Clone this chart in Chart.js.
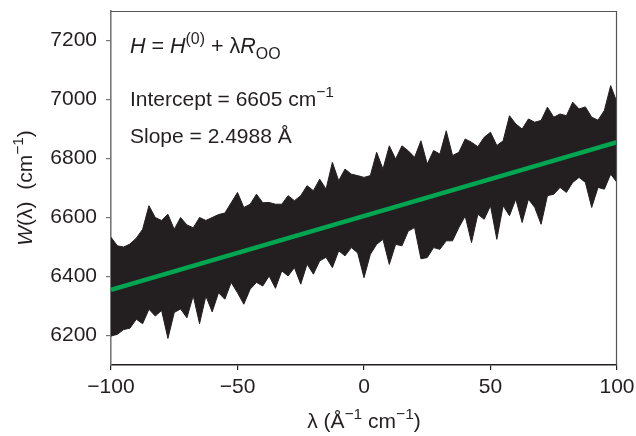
<!DOCTYPE html>
<html>
<head>
<meta charset="utf-8">
<script src="https://cdn.jsdelivr.net/npm/chart.js@4.4.1/dist/chart.umd.min.js"></script>
<style>
  body { margin: 0; background: #fff; }
  #wrap { width: 636px; height: 436px; }
</style>
</head>
<body>
<div id="wrap"><canvas id="myChart" width="636" height="436"></canvas></div>
<script>
/* data */

const lambdaGrid = [
  -100, -97.5, -95, -92.5, -90, -87.5, -85, -82.5, -80, -77.5,
  -75, -72.5, -70, -67.5, -65, -62.5, -60, -57.5, -55, -52.5,
  -50, -47.5, -45, -42.5, -40, -37.5, -35, -32.5, -30, -27.5,
  -25, -22.5, -20, -17.5, -15, -12.5, -10, -7.5, -5, -2.5,
  0, 2.5, 5, 7.5, 10, 12.5, 15, 17.5, 20, 22.5,
  25, 27.5, 30, 32.5, 35, 37.5, 40, 42.5, 45, 47.5,
  50, 52.5, 55, 57.5, 60, 62.5, 65, 67.5, 70, 72.5,
  75, 77.5, 80, 82.5, 85, 87.5, 90, 92.5, 95, 97.5, 100
];

// top edge of the noisy W(lambda) trace
const upperEnv = [
  6533, 6504, 6500, 6510, 6530, 6560, 6640, 6600, 6590, 6611,
  6560, 6600, 6575, 6565, 6600, 6590, 6600, 6610, 6615, 6650,
  6685, 6634, 6645, 6679, 6650, 6651, 6645, 6645, 6674, 6657,
  6674, 6708, 6691, 6730, 6696, 6787, 6725, 6764, 6747, 6742,
  6736, 6742, 6821, 6764, 6843, 6798, 6843, 6826, 6804, 6860,
  6781, 6827, 6815, 6894, 6810, 6821, 6866, 6855, 6840, 6872,
  6889, 6844, 6860, 6945, 6917, 6900, 6934, 6923, 6929, 6974,
  6940, 6951, 6945, 6991, 6968, 6975, 6940, 6930, 6963, 7047, 6990
];

// bottom edge of the noisy W(lambda) trace
const lowerEnv = [
  6198, 6204, 6220, 6225, 6255, 6240, 6289, 6266, 6285, 6190,
  6278, 6290, 6260, 6335, 6240, 6334, 6280, 6345, 6323, 6380,
  6345, 6306, 6357, 6380, 6368, 6402, 6360, 6419, 6402, 6430,
  6374, 6442, 6408, 6453, 6465, 6430, 6487, 6470, 6498, 6480,
  6396, 6475, 6509, 6526, 6441, 6509, 6504, 6554, 6566, 6460,
  6464, 6498, 6492, 6521, 6521, 6566, 6605, 6515, 6611, 6594,
  6640, 6526, 6640, 6606, 6662, 6583, 6662, 6634, 6577, 6674,
  6679, 6702, 6685, 6719, 6736, 6719, 6634, 6702, 6696, 6747, 6719
];

// linear fit, intercept 6605, slope 2.4988
const fitLambda = [-100, 100];
const fitW = [6355, 6855];

const xTicks = [-100, -50, 0, 50, 100];
const yTicks = [6200, 6400, 6600, 6800, 7000, 7200];

const ink = '#231f20';
const green = '#00a650';
const FONT = '"Liberation Sans", Arial, Helvetica, sans-serif';

/* rich text helper (italics, super/subscripts) */

function drawRich(ctx, parts, x, y, size, align) {
  const segs = parts.map(p => {
    const s = (p.sup || p.sub) ? size * 0.74 : size;
    const font = (p.it ? 'italic ' : '') + s + 'px ' + FONT;
    ctx.font = font;
    return {
      t: p.t,
      font: font,
      w: ctx.measureText(p.t).width,
      dy: p.sup ? -size * 0.42 : (p.sub ? size * 0.27 : 0)
    };
  });
  const total = segs.reduce((a, s) => a + s.w, 0);
  let cx = align === 'center' ? x - total / 2 : x;
  segs.forEach(s => {
    ctx.font = s.font;
    ctx.fillText(s.t, cx, y + s.dy);
    cx += s.w;
  });
}

const textPlugin = {
  id: 'texts',
  afterDraw(chart) {
    const ctx = chart.ctx;
    const a = chart.chartArea;
    ctx.save();
    ctx.fillStyle = ink;
    ctx.textBaseline = 'alphabetic';
    ctx.textAlign = 'left';

    // frame on top and right
    ctx.strokeStyle = '#555';
    ctx.lineWidth = 1.2;
    ctx.beginPath();
    ctx.moveTo(a.left, a.top + 0.5);
    ctx.lineTo(a.right - 0.5, a.top + 0.5);
    ctx.lineTo(a.right - 0.5, a.bottom);
    ctx.stroke();

    drawRich(ctx, [
      { t: 'H', it: true }, { t: ' = ' }, { t: 'H', it: true }, { t: '(0)', sup: true },
      { t: ' + λ' }, { t: 'R', it: true }, { t: 'OO', sub: true }
    ], 130, 53, 21.5, 'left');

    drawRich(ctx, [{ t: 'Intercept = 6605 cm' }, { t: '−1', sup: true }], 130, 106, 21, 'left');
    drawRich(ctx, [{ t: 'Slope = 2.4988 Å' }], 130, 143, 21, 'left');

    // x title
    drawRich(ctx, [
      { t: 'λ (Å' }, { t: '−1', sup: true }, { t: ' cm' }, { t: '−1', sup: true }, { t: ')' }
    ], (a.left + a.right) / 2, 428, 21, 'center');

    // y title
    ctx.translate(32, 188);
    ctx.rotate(-Math.PI / 2);
    drawRich(ctx, [
      { t: 'W', it: true }, { t: '(λ)  (cm' }, { t: '−1', sup: true }, { t: ')' }
    ], 0, 0, 21, 'center');
    ctx.restore();
  }
};

const ctx = document.getElementById('myChart');

new Chart(ctx, {
  type: 'line',
  data: {
    datasets: [
      {
        label: 'upper',
        data: lambdaGrid.map((x, i) => ({ x: x, y: upperEnv[i] })),
        borderColor: ink,
        backgroundColor: ink,
        borderWidth: 1,
        pointRadius: 0,
        fill: '+1',
        order: 2
      },
      {
        label: 'lower',
        data: lambdaGrid.map((x, i) => ({ x: x, y: lowerEnv[i] })),
        borderColor: ink,
        borderWidth: 1,
        pointRadius: 0,
        fill: false,
        order: 2
      },
      {
        label: 'fit',
        data: fitLambda.map((x, i) => ({ x: x, y: fitW[i] })),
        borderColor: green,
        borderWidth: 4.5,
        pointRadius: 0,
        fill: false,
        order: 1
      }
    ]
  },
  options: {
    responsive: false,
    animation: false,
    devicePixelRatio: 1,
    layout: { padding: { left: 0, right: 19, top: 11, bottom: 0 } },
    plugins: {
      legend: { display: false },
      tooltip: { enabled: false }
    },
    scales: {
      x: {
        type: 'linear',
        min: -100,
        max: 100,
        afterBuildTicks: s => { s.ticks = xTicks.map(v => ({ value: v })); },
        afterFit: s => { s.height = 71; s.paddingLeft = 0; s.paddingRight = 0; },
        ticks: {
          color: ink,
          font: { size: 21, family: FONT },
          padding: 5,
          maxRotation: 0,
          callback: v => String(v).replace('-', '−')
        },
        grid: { drawOnChartArea: false, tickLength: 5, color: ink, lineWidth: 1.2 },
        border: { color: ink, width: 1.4 }
      },
      y: {
        min: 6100,
        max: 7300,
        afterBuildTicks: s => { s.ticks = yTicks.map(v => ({ value: v })); },
        afterFit: s => { s.width = 111; s.paddingTop = 0; s.paddingBottom = 0; },
        ticks: {
          color: ink,
          font: { size: 21, family: FONT },
          padding: 9,
          callback: v => String(v)
        },
        grid: { drawOnChartArea: false, tickLength: 5, color: '#777', lineWidth: 1.2 },
        border: { color: '#777', width: 1.6 }
      }
    }
  },
  plugins: [textPlugin]
});
</script>
</body>
</html>
